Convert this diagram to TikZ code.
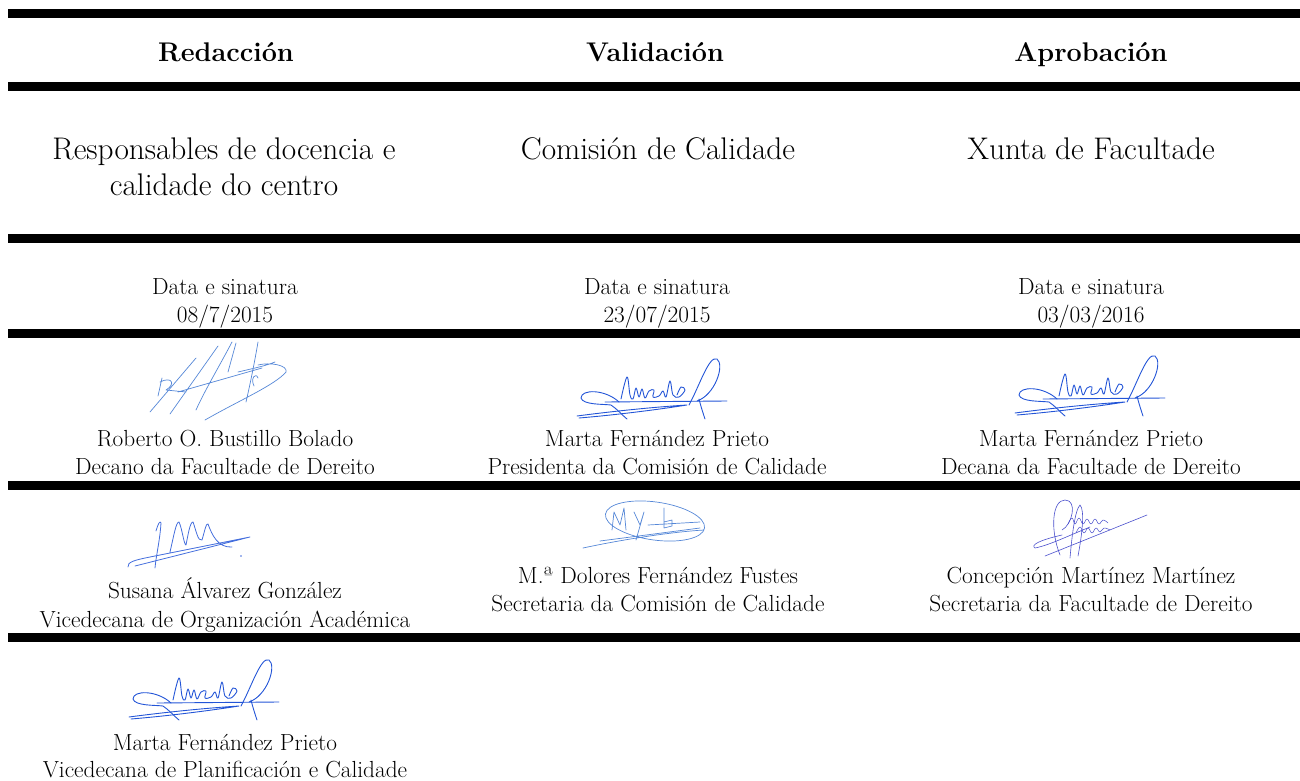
\documentclass[tikz,border=0pt]{standalone}
\usepackage{fontspec}
\setmainfont{Latin Modern Roman}
\definecolor{sigblue}{RGB}{35,85,215}
\definecolor{siglight}{RGB}{85,135,215}
\definecolor{sigpurple}{RGB}{75,80,205}
\tikzset{
  bar/.style={fill=black},
  hdr/.style={anchor=base, inner sep=0pt, font=\fontsize{27}{32}\selectfont\bfseries},
  big/.style={anchor=base, inner sep=0pt, font=\fontsize{31.3}{36}\selectfont},
  small/.style={anchor=base, inner sep=0pt, font=\fontsize{23.3}{28}\selectfont},
  sig/.style={line width=0.9pt, line cap=round, line join=round},
  martasig/.pic={
    \draw[sig, draw=sigblue]
      (2,59) .. controls (40,54) and (80,50) .. (112,48)
      .. controls (80,53) and (40,58) .. (4,61);
    \draw[sig, draw=sigblue] (44,45) .. controls (30,32) and (6,32) .. (6,41)
      .. controls (8,48) and (28,47) .. (36,48) .. controls (42,52) and (46,57) .. (52,62);
    \draw[sig, draw=sigblue] (30,45) -- (152,44);
    \draw[sig, draw=sigblue] plot[smooth, tension=0.6] coordinates {(46,42) (52,20) (55,38) (58,42) (61,31) (64,40) (67,32) (70,41) (74,34) (79,33) (78,40) (84,39) (88,34) (91,40) (95,24) (98,38) (104,40) (110,33) (106,30) (102,38)};
    \draw[sig, draw=sigblue] (114,48) .. controls (124,30) and (134,-2) .. (142,2)
      .. controls (150,8) and (140,38) .. (122,44);
    \draw[sig, draw=sigblue] (124,42) .. controls (126,50) and (128,56) .. (130,62);
  }
}
\begin{document}
\begin{tikzpicture}[x=1pt, y=-1pt]
\useasboundingbox (0,0) rectangle (1300,781);
% bars
\fill[bar] (8,9) rectangle (1300,18);
\fill[bar] (8,82) rectangle (1300,91);
\fill[bar] (8,234) rectangle (1300,243);
\fill[bar] (8,329) rectangle (1300,338);
\fill[bar] (8,481) rectangle (1300,490);
\fill[bar] (8,633) rectangle (1300,642);
% headers
\node[hdr] (h1) at (226,62) {Redacción};
\node[hdr] (h2) at (655,62) {Validación};
\node[hdr] (h3) at (1091,62) {Aprobación};
% bodies
\node[big] (b1a) at (224,159) {Responsables de docencia e};
\node[big] (b1b) at (224,195) {calidade do centro};
\node[big] (b2) at (658,159) {Comisión de Calidade};
\node[big] (b3) at (1091,159) {Xunta de Facultade};
% dates
\node[small] (d1a) at (225,294) {Data e sinatura};
\node[small] (d1b) at (225,322) {08/7/2015};
\node[small] (d2a) at (657,294) {Data e sinatura};
\node[small] (d2b) at (657,322) {23/07/2015};
\node[small] (d3a) at (1091,294) {Data e sinatura};
\node[small] (d3b) at (1091,322) {03/03/2016};
% row 1
\node[small] (r1a) at (225,446) {Roberto O. Bustillo Bolado};
\node[small] (r1b) at (225,474) {Decano da Facultade de Dereito};
\node[small] (r2a) at (657,446) {Marta Fernández Prieto};
\node[small] (r2b) at (657,474) {Presidenta da Comisión de Calidade};
\node[small] (r3a) at (1091,446) {Marta Fernández Prieto};
\node[small] (r3b) at (1091,474) {Decana da Facultade de Dereito};
% row 2
\node[small] (s1a) at (225,598) {Susana Álvarez González};
\node[small] (s1b) at (225,627) {Vicedecana de Organización Académica};
\node[small] (s2a) at (658,583) {M.ª Dolores Fernández Fustes};
\node[small] (s2b) at (658,611) {Secretaria da Comisión de Calidade};
\node[small] (s3a) at (1091,583) {Concepción Martínez Martínez};
\node[small] (s3b) at (1091,611) {Secretaria da Facultade de Dereito};
% row 3
\node[small] (t1a) at (225,750) {Marta Fernández Prieto};
\node[small] (t1b) at (225,777) {Vicedecana de Planificación e Calidade};
% signatures: Marta
\pic at (575,357) {martasig};
\pic at (1013,354) {martasig};
\pic at (127,658) {martasig};
% signature: Roberto
\draw[sig, draw=siglight, line width=0.7pt]
  (162,378) -- (158,396)
  (160,382) .. controls (172,376) and (176,384) .. (166,390) -- (186,392)
  (150,412) -- (196,358)
  (170,414) -- (218,346)
  (178,392) -- (262,368)
  (196,410) .. controls (205,390) and (220,365) .. (232,342)
  (228,372) -- (236,343)
  (258,342) .. controls (255,360) and (250,385) .. (246,402)
  (238,372) .. controls (255,368) and (265,366) .. (275,362)
  (205,420) .. controls (240,400) and (275,385) .. (286,372) .. controls (288,365) and (270,362) .. (258,365)
  (254,386) .. controls (250,378) and (256,372) .. (258,378);
% signature: Susana
\draw[sig, draw=sigblue!85!white, line width=0.8pt]
  (156,531) .. controls (158,524) and (160,520) .. (161,523) .. controls (160,540) and (156,556) .. (155,568)
  (170,552) .. controls (174,535) and (176,522) .. (179,522) .. controls (182,528) and (184,545) .. (186,545)
  .. controls (188,535) and (190,522) .. (193,522) .. controls (196,530) and (198,542) .. (202,540)
  .. controls (205,530) and (206,523) .. (208,524) .. controls (212,535) and (218,548) .. (232,547)
  (128,567) .. controls (127,562) and (135,560) .. (150,557) -- (250,537) -- (135,566);
\fill[sigblue!85!white] (241,556) circle (0.9);
% signature: Dolores
\draw[sig, draw=siglight, line width=0.7pt]
  (655,521) ellipse [x radius=50, y radius=19, rotate=-8]
  (583,548) .. controls (620,540) and (670,532) .. (704,530)
  (600,541) -- (700,528)
  (612,530) -- (614,512) -- (620,525) -- (624,508) -- (626,530)
  (634,512) -- (640,525) -- (644,512) -- (636,540)
  (664,508) -- (664,528) -- (672,526) -- (672,520) -- (664,522)
  (648,525) -- (700,522);
% signature: Concepcion
\draw[sig, draw=sigpurple, line width=0.6pt]
  (1060,555) .. controls (1050,530) and (1052,500) .. (1065,500) .. controls (1078,500) and (1072,525) .. (1062,530)
  (1070,558) .. controls (1072,535) and (1075,510) .. (1080,505) .. controls (1085,510) and (1082,535) .. (1078,556)
  (1045,556) -- (1147,515)
  (1062,535) .. controls (1040,540) and (1030,545) .. (1035,548) .. controls (1050,545) and (1070,535) .. (1090,527);
\draw[sig, draw=sigpurple, line width=0.5pt] plot[smooth, tension=0.7] coordinates {(1068,524) (1072,518) (1075,524) (1079,518) (1083,524) (1087,519) (1091,524) (1095,519) (1099,524) (1103,520) (1108,523)};
\draw[sig, draw=sigpurple, line width=0.5pt] plot[smooth, tension=0.7] coordinates {(1076,533) (1080,527) (1084,533) (1088,528) (1092,533) (1096,528) (1100,532) (1104,528) (1110,530)};
\end{tikzpicture}
\end{document}
